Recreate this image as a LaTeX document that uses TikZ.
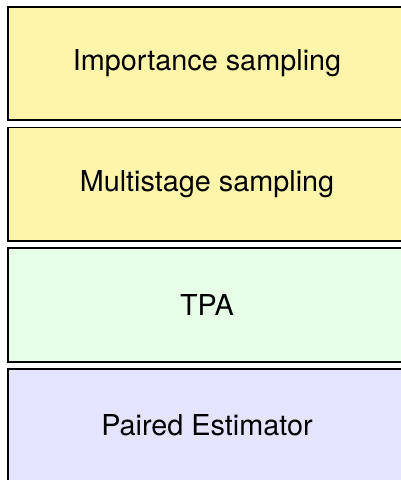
\documentclass[tikz,border=0pt]{standalone}
\usepackage{fontspec}
\setmainfont{TeX Gyre Heros}
\definecolor{boxyellow}{RGB}{255,245,170}
\definecolor{boxgreen}{RGB}{230,255,230}
\definecolor{boxlav}{RGB}{228,228,255}
\begin{document}
\begin{tikzpicture}[x=1pt,y=-1pt,
  layer/.style={draw=black, line width=1.7pt, minimum width=398pt, minimum height=113.5pt,
    inner sep=0pt, font=\fontsize{28.8}{34}\selectfont, text=black}]
\useasboundingbox (0,0) rectangle (401,480);
\clip (0,0) rectangle (401,480);
\node[layer, fill=boxyellow] (imp) at (207,63.4) {Importance sampling};
\node[layer, fill=boxyellow] (multi) at (207,184.2) {Multistage sampling};
\node[layer, fill=boxgreen] (tpa) at (207,305) {TPA};
\node[layer, fill=boxlav] (paired) at (207,425.6) {Paired Estimator};
\end{tikzpicture}
\end{document}
